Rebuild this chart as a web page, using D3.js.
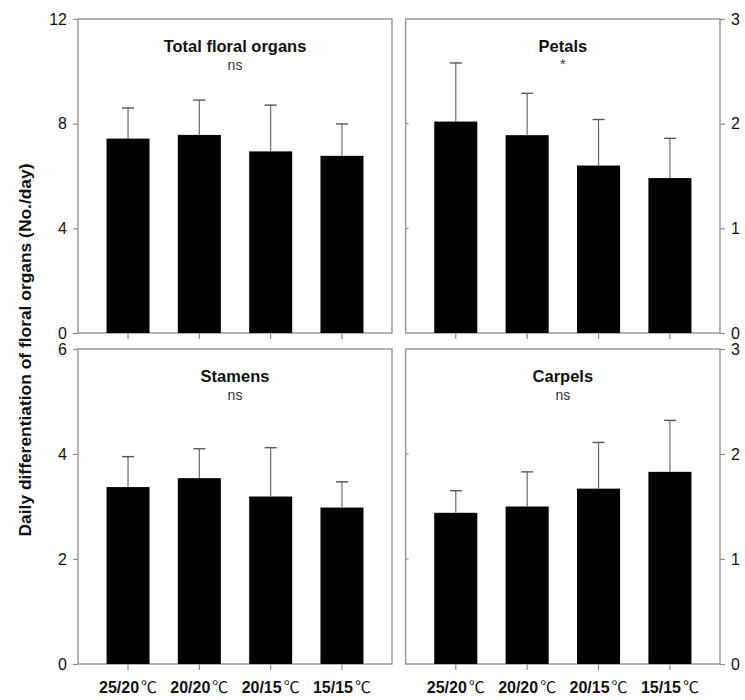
<!DOCTYPE html>
<html><head><meta charset="utf-8">
<script src="https://cdn.jsdelivr.net/npm/d3@7"></script>
<style>body{margin:0;background:#fff;}svg{display:block;font-family:"Liberation Sans",Arial,sans-serif;}</style>
</head><body>
<svg id="c" width="745" height="700"></svg>
<script>
const categories = ["25/20℃", "20/20℃", "20/15℃", "15/15℃"];
const totalMean = [7.43, 7.57, 6.94, 6.77];
const totalErr  = [8.60, 8.90, 8.71, 7.99];
const petalsMean = [2.02, 1.89, 1.60, 1.48];
const petalsErr  = [2.58, 2.29, 2.04, 1.86];
const stamensMean = [3.37, 3.54, 3.19, 2.98];
const stamensErr  = [3.95, 4.10, 4.12, 3.47];
const carpelsMean = [1.44, 1.50, 1.67, 1.83];
const carpelsErr  = [1.65, 1.83, 2.11, 2.32];
const totalTicks = [0, 4, 8, 12];
const petalsTicks = [0, 1, 2, 3];
const stamensTicks = [0, 2, 4, 6];
const carpelsTicks = [0, 1, 2, 3];

const panels = [
  {title:"Total floral organs", sig:"ns", mean:totalMean, err:totalErr, max:12, ticks:totalTicks, x0:78, x1:392, y0:19, y1:333, side:"left", xlabels:false},
  {title:"Petals", sig:"*", mean:petalsMean, err:petalsErr, max:3, ticks:petalsTicks, x0:405.7, x1:720, y0:19, y1:333, side:"right", xlabels:false},
  {title:"Stamens", sig:"ns", mean:stamensMean, err:stamensErr, max:6, ticks:stamensTicks, x0:78, x1:392, y0:349, y1:664, side:"left", xlabels:true},
  {title:"Carpels", sig:"ns", mean:carpelsMean, err:carpelsErr, max:3, ticks:carpelsTicks, x0:405.7, x1:720, y0:349, y1:664, side:"right", xlabels:true}
];

const svg = d3.select("#c");
const frameCol = "#8a8a8a";

panels.forEach(p => {
  const x = d3.scaleBand().domain(categories).range([p.x0, p.x1]).paddingInner(0.397).paddingOuter(0.4);
  const y = d3.scaleLinear().domain([0, p.max]).range([p.y1, p.y0]);
  const g = svg.append("g");

  g.append("rect").attr("x", p.x0).attr("y", p.y0).attr("width", p.x1 - p.x0).attr("height", p.y1 - p.y0)
    .attr("fill", "none").attr("stroke", frameCol).attr("stroke-width", 1.3);

  g.selectAll("rect.bar").data(p.mean).enter().append("rect").attr("class", "bar")
    .attr("x", (d, i) => x(categories[i])).attr("width", x.bandwidth())
    .attr("y", d => y(d)).attr("height", d => y(0) - y(d)).attr("fill", "#000");

  const eg = g.selectAll("g.eb").data(p.err).enter().append("g").attr("class", "eb");
  eg.append("line")
    .attr("x1", (d, i) => x(categories[i]) + x.bandwidth() / 2).attr("x2", (d, i) => x(categories[i]) + x.bandwidth() / 2)
    .attr("y1", (d, i) => y(p.mean[i])).attr("y2", d => y(d))
    .attr("stroke", "#6a6a6a").attr("stroke-width", 1.2);
  eg.append("line")
    .attr("x1", (d, i) => x(categories[i]) + x.bandwidth() / 2 - 6).attr("x2", (d, i) => x(categories[i]) + x.bandwidth() / 2 + 6)
    .attr("y1", d => y(d)).attr("y2", d => y(d))
    .attr("stroke", "#555").attr("stroke-width", 1.4);

  const axis = p.side === "left" ? d3.axisLeft(y) : d3.axisRight(y);
  axis.tickValues(p.ticks).tickSize(5).tickPadding(6).tickFormat(d3.format("d"));
  const ag = g.append("g").attr("transform", `translate(${p.side === "left" ? p.x0 : p.x1},0)`).call(axis);
  ag.select(".domain").remove();
  ag.selectAll(".tick line").attr("stroke", frameCol).attr("stroke-width", 1.2);
  ag.selectAll(".tick text").attr("font-size", 16).attr("fill", "#111").attr("font-family", "Liberation Sans, Arial, sans-serif");

  if (p.side === "right") {
    g.selectAll("line.in").data(p.ticks.slice(1, -1)).enter().append("line")
      .attr("x1", p.x0).attr("x2", p.x0 + 3).attr("y1", d => y(d)).attr("y2", d => y(d))
      .attr("stroke", frameCol).attr("stroke-width", 1);
  }

  const xa = d3.axisBottom(x).tickSize(6).tickFormat("");
  const xg = g.append("g").attr("transform", `translate(0,${p.y1})`).call(xa);
  xg.select(".domain").remove();
  xg.selectAll(".tick line").attr("stroke", frameCol).attr("stroke-width", 1.2);
  if (p.xlabels) {
    xg.selectAll(".tick").each(function(d) {
      const t = d3.select(this).append("text").attr("y", 29).attr("text-anchor", "middle")
        .attr("fill", "#111").attr("font-size", 16);
      const num = d.replace("℃", "");
      t.append("tspan").attr("font-weight", "bold").attr("font-family", "Liberation Sans, Arial, sans-serif").text(num);
      t.append("tspan").attr("dx", 2).attr("font-weight", "normal").attr("font-family", "Noto Sans CJK SC, sans-serif").text("℃");
    });
  }

  const cx = (p.x0 + p.x1) / 2;
  g.append("text").attr("x", cx).attr("y", p.y0 + 33).attr("text-anchor", "middle")
    .attr("font-size", 16.5).attr("font-weight", "bold").attr("fill", "#111").text(p.title);
  g.append("text").attr("x", cx).attr("y", p.y0 + (p.sig === "*" ? 50 : 51)).attr("text-anchor", "middle")
    .attr("font-size", 14).attr("fill", "#333").text(p.sig);
});

svg.append("text").attr("transform", "translate(31,350) rotate(-90)").attr("text-anchor", "middle")
  .attr("font-size", 17.4).attr("font-weight", "bold").attr("fill", "#111")
  .text("Daily differentiation of floral organs (No./day)");
</script>
</body></html>
